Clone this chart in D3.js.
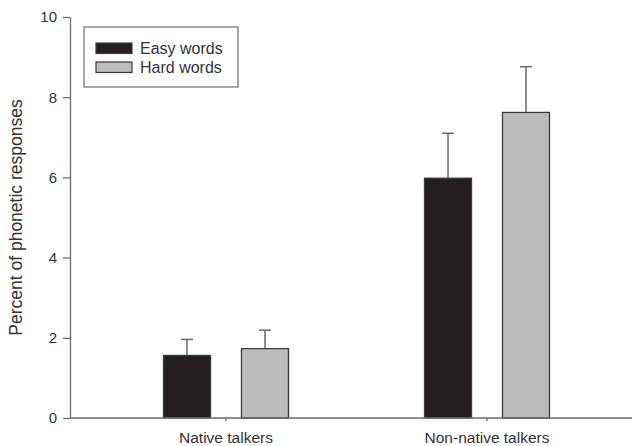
<!DOCTYPE html>
<html lang="en">
  <head>
    <meta charset="UTF-8" />
    <title>Phonetic responses</title>
    <style>
      body { margin: 0; background: #fff; }
      svg { display: block; font-family: "Liberation Sans", Arial, sans-serif; }
      .yaxis path, .yaxis line, .xaxis line { stroke: #6b6b6b; stroke-width: 1.3px; }
      .yaxis text, .xaxis text { fill: #333; }
    </style>
  </head>
  <body>
    <script src="https://cdn.jsdelivr.net/npm/d3@7"></script>
    <script>
      // chart values
      var groups = ["Native talkers", "Non-native talkers"];
      var conditions = ["Easy words", "Hard words"];
      var easyMeans = [1.56, 5.98];
      var hardMeans = [1.73, 7.62];
      var easyErr = [0.40, 1.12];
      var hardErr = [0.46, 1.14];
      var yTicks = [0, 2, 4, 6, 8, 10];

      var colors = { "Easy words": "#231f20", "Hard words": "#bcbcbc" };

      var w = 636, h = 446;
      var margin = { top: 17, right: 4, bottom: 28, left: 70 };

      var svg = d3.select("body").append("svg")
                  .attr("width", w)
                  .attr("height", h);

      var yScale = d3.scaleLinear()
                     .domain([0, 10])
                     .range([h - margin.bottom, margin.top]);

      var xScale = d3.scaleBand()
                     .domain(groups)
                     .range([95.5, 617.5]);

      var xInner = d3.scaleBand()
                     .domain(conditions)
                     .range([-62.5, 62.5])
                     .paddingInner(0.397);

      var data = [];
      groups.forEach(function(g, i) {
        data.push({ group: g, cond: "Easy words", value: easyMeans[i], err: easyErr[i] });
        data.push({ group: g, cond: "Hard words", value: hardMeans[i], err: hardErr[i] });
      });

      function barX(d) {
        return xScale(d.group) + xScale.bandwidth() / 2 + xInner(d.cond);
      }

      // error bars (drawn first, bar covers lower part)
      var eb = svg.append("g").attr("class", "errors");
      eb.selectAll("line.stem")
        .data(data)
        .enter()
        .append("line")
        .attr("x1", function(d) { return barX(d) + xInner.bandwidth() / 2; })
        .attr("x2", function(d) { return barX(d) + xInner.bandwidth() / 2; })
        .attr("y1", function(d) { return yScale(d.value); })
        .attr("y2", function(d) { return yScale(d.value + d.err); })
        .attr("stroke", "#6b6b6b")
        .attr("stroke-width", 1.5);
      eb.selectAll("line.cap")
        .data(data)
        .enter()
        .append("line")
        .attr("x1", function(d) { return barX(d) + xInner.bandwidth() / 2 - 6; })
        .attr("x2", function(d) { return barX(d) + xInner.bandwidth() / 2 + 6; })
        .attr("y1", function(d) { return yScale(d.value + d.err); })
        .attr("y2", function(d) { return yScale(d.value + d.err); })
        .attr("stroke", "#6b6b6b")
        .attr("stroke-width", 1.5);

      svg.append("g")
         .selectAll("rect")
         .data(data)
         .enter()
         .append("rect")
         .attr("x", barX)
         .attr("width", xInner.bandwidth())
         .attr("y", function(d) { return yScale(d.value); })
         .attr("height", function(d) { return yScale(0) - yScale(d.value); })
         .attr("fill", function(d) { return colors[d.cond]; })
         .attr("stroke", "#3a3a3a")
         .attr("stroke-width", 1.3);

      // axes
      var yAxis = d3.axisLeft(yScale)
                    .tickValues(yTicks)
                    .tickSize(7)
                    .tickSizeOuter(0)
                    .tickPadding(6)
                    .tickFormat(d3.format("d"));
      svg.append("g")
         .attr("class", "yaxis")
         .attr("transform", "translate(" + margin.left + ",0)")
         .call(yAxis)
         .selectAll("text")
         .style("font-size", "15px");

      var xAxis = d3.axisBottom(xScale)
                    .tickSize(3)
                    .tickSizeOuter(0)
                    .tickPadding(11);
      var xg = svg.append("g")
         .attr("class", "xaxis")
         .attr("transform", "translate(0," + yScale(0) + ")")
         .call(xAxis);
      xg.select(".domain").remove();
      xg.selectAll("text").style("font-size", "15.5px");

      svg.append("line")
         .attr("x1", margin.left)
         .attr("x2", w - margin.right)
         .attr("y1", yScale(0))
         .attr("y2", yScale(0))
         .attr("stroke", "#6b6b6b")
         .attr("stroke-width", 1.3);

      svg.append("text")
         .attr("transform", "translate(22," + yScale(5) + ") rotate(-90)")
         .attr("text-anchor", "middle")
         .style("font-size", "17.5px")
         .attr("fill", "#333")
         .text("Percent of phonetic responses");

      // legend
      var legend = svg.append("g").attr("transform", "translate(84,27)");
      legend.append("rect")
            .attr("width", 154)
            .attr("height", 60)
            .attr("fill", "#fff")
            .attr("stroke", "#7a7a7a")
            .attr("stroke-width", 1.3);
      var items = legend.selectAll("g.item")
            .data(conditions)
            .enter()
            .append("g")
            .attr("transform", function(d, i) { return "translate(12," + (16 + i * 19) + ")"; });
      items.append("rect")
           .attr("width", 36)
           .attr("height", 10.5)
           .attr("fill", function(d) { return colors[d]; })
           .attr("stroke", "#3a3a3a")
           .attr("stroke-width", 1.2);
      items.append("text")
           .attr("x", 44)
           .attr("y", 10.5)
           .style("font-size", "16px")
           .attr("fill", "#333")
           .text(function(d) { return d; });
    </script>
  </body>
</html>
